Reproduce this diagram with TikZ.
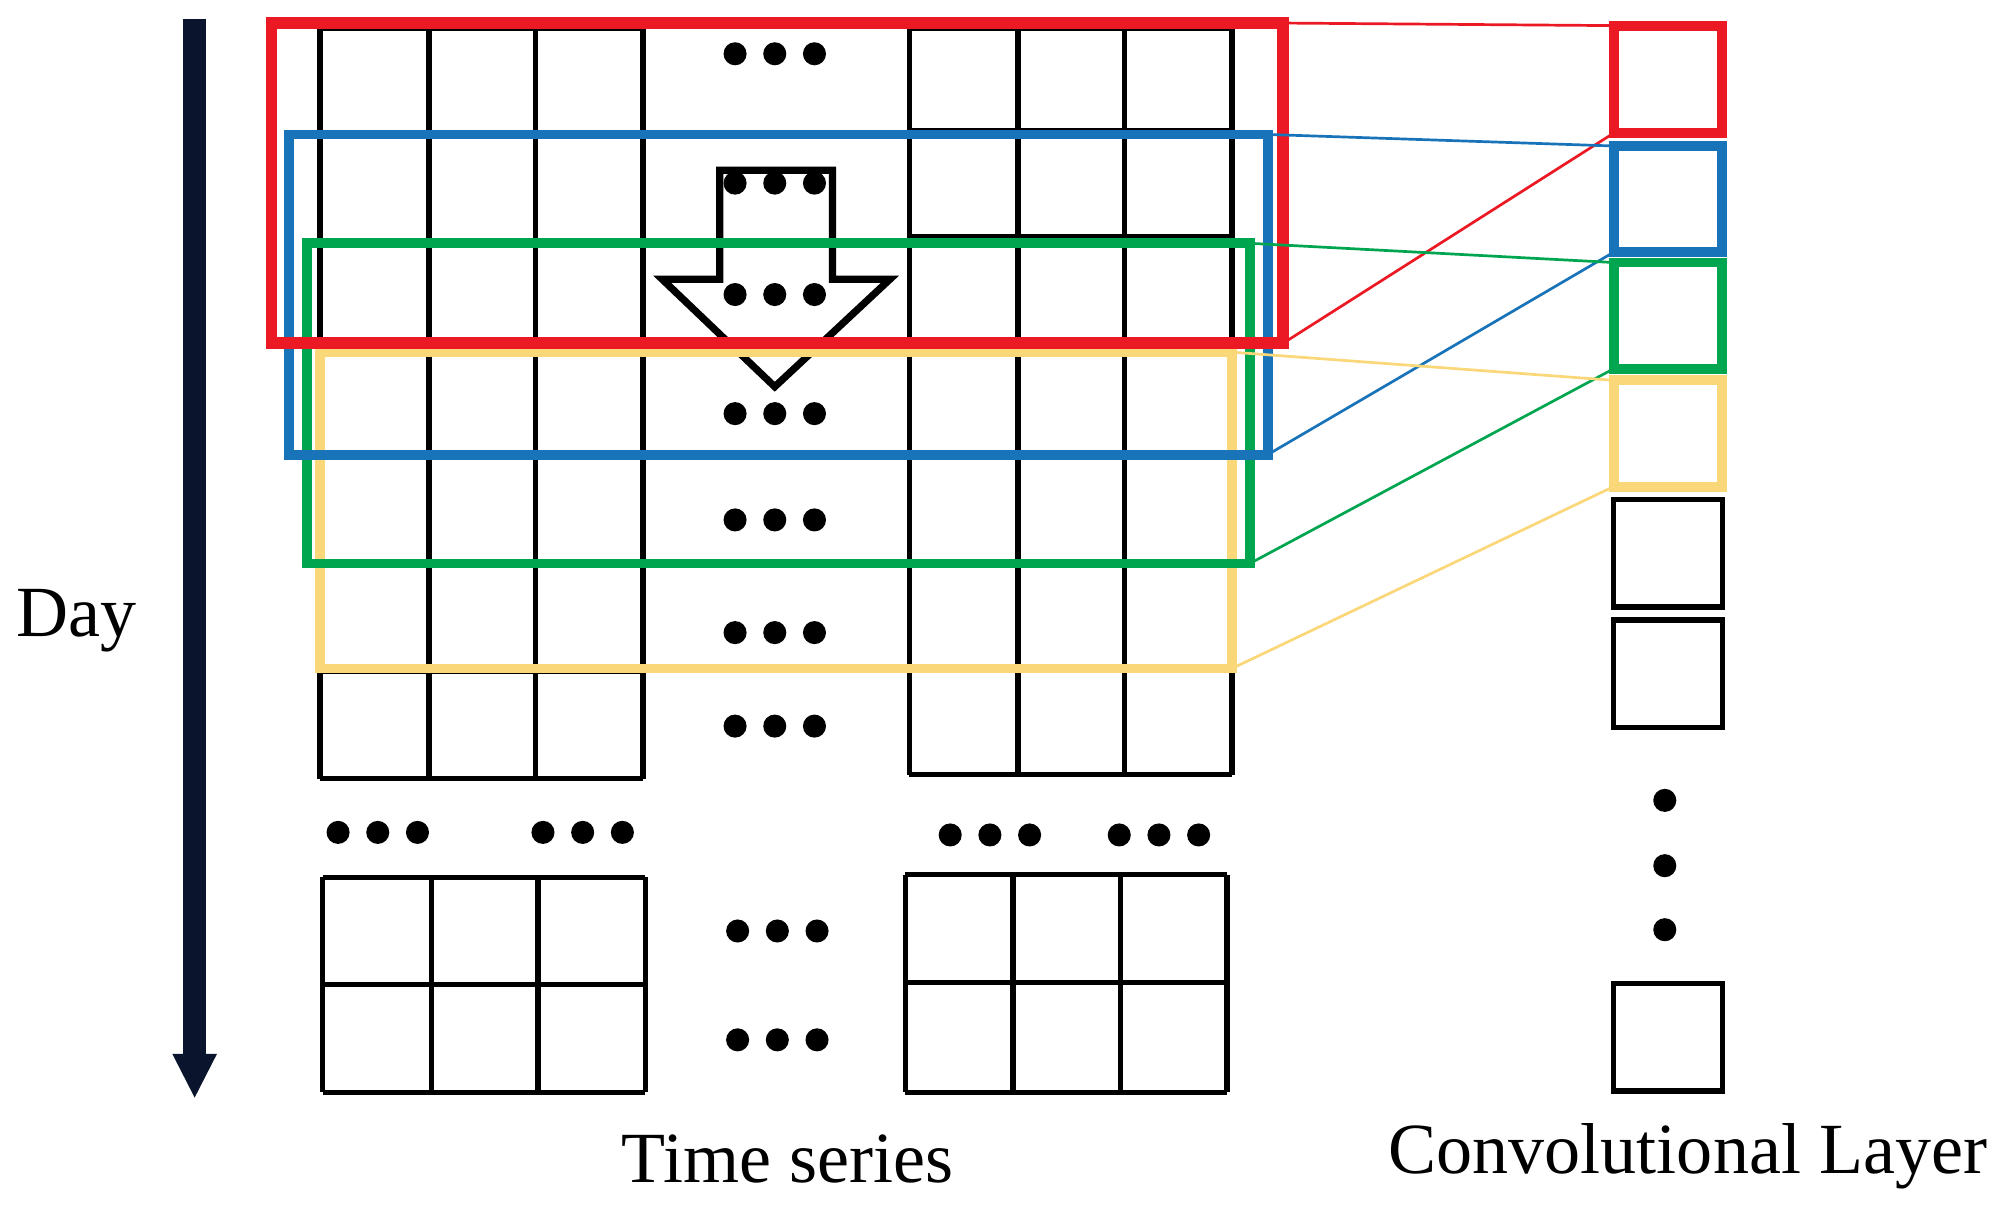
\documentclass[tikz,border=0pt]{standalone}
\usepackage{fontspec}
\setmainfont{Liberation Serif}
\usetikzlibrary{arrows.meta}
\definecolor{cred}{RGB}{235,25,35}
\definecolor{cblue}{RGB}{25,115,185}
\definecolor{cgreen}{RGB}{0,165,80}
\definecolor{cyel}{RGB}{250,215,120}
\definecolor{navy}{RGB}{10,20,45}
\begin{document}
\begin{tikzpicture}[x=0.01cm,y=-0.01cm,
  grid/.style={line width=1.2pt,black},
  win/.style={line width=2.2pt},
  link/.style={line width=0.6pt},
  dot/.style={fill=black,draw=none,circle,minimum size=0.18cm,inner sep=0pt},
  lbl/.style={font=\fontsize{16}{18}\selectfont}]
\useasboundingbox (0,0) rectangle (1568,952);
% day arrow
\draw[navy,line width=5pt,-{Triangle[length=0.35cm,width=0.32cm]}] (152,15) -- (152,858);
\node[lbl] (day) at (60,485) {Day};
% main grids
\foreach \y in {22,105.7,189.4,273.1,356.8,440.5,524.2,608} \draw[grid] (250,\y)--(502,\y);
\foreach \x in {250,335,418,502} \draw[grid] (\x,22)--(\x,608);
\foreach \y in {22,102,185,270,355,440,522,605} \draw[grid] (710,\y)--(962,\y);
\foreach \x in {710,795,878,962} \draw[grid] (\x,22)--(\x,605);
% bottom grids
\foreach \y in {685,769,853} \draw[grid] (252,\y)--(504,\y);
\foreach \x in {252,337,420,504} \draw[grid] (\x,685)--(\x,853);
\foreach \y in {683,767,853} \draw[grid] (707,\y)--(958,\y);
\foreach \x in {707,791,875,958} \draw[grid] (\x,683)--(\x,853);
% dots
\foreach \cx/\cy in {605/42,605/143,605/230,605/323,605/406,605/494,605/567,295/650,455/650,773/652,905/652,607/727,607/812}
  \foreach \d in {-31,0,31} \node[dot] at (\cx+\d,\cy) {};
\foreach \cy in {625,676,726} \node[dot] at (1300,\cy) {};
% hollow arrow
\draw[line width=1.6pt] (562,133) -- (650,133) -- (650,218) -- (695,218) -- (605,302) -- (517,218) -- (562,218) -- cycle;
% windows
\coordinate (r1) at (212,18); \coordinate (r2) at (1002,268);
\coordinate (b1) at (226,105); \coordinate (b2) at (990,355);
\coordinate (g1) at (240,190); \coordinate (g2) at (976,440);
\coordinate (y1) at (250,275); \coordinate (y2) at (962,522);
\draw[win,cyel] (y1) rectangle (y2);
\draw[win,cgreen] (g1) rectangle (g2);
\draw[win,cblue] (b1) rectangle (b2);
\draw[win,cred,line width=2.6pt] (r1) rectangle (r2);
% conv layer
\draw[win,cred] (1260,20) rectangle (1345,104);
\draw[win,cblue] (1260,114) rectangle (1345,197);
\draw[win,cgreen] (1260,205) rectangle (1345,288);
\draw[win,cyel] (1260,297) rectangle (1345,380);
\draw[grid] (1260,390) rectangle (1345,474);
\draw[grid] (1260,484) rectangle (1345,568);
\draw[grid] (1260,768) rectangle (1345,852);
% links
\draw[link,cred] (1002,18) -- (1260,20); \draw[link,cred] (r2) -- (1260,104);
\draw[link,cblue] (990,105) -- (1260,114); \draw[link,cblue] (b2) -- (1260,197);
\draw[link,cgreen] (976,190) -- (1260,205); \draw[link,cgreen] (g2) -- (1260,288);
\draw[link,cyel] (962,275) -- (1260,297); \draw[link,cyel] (y2) -- (1260,380);
\node[lbl] (ts) at (615,905) {Time series};
\node[lbl] (cl) at (1318,903) {Convolutional Layer};
\end{tikzpicture}
\end{document}
